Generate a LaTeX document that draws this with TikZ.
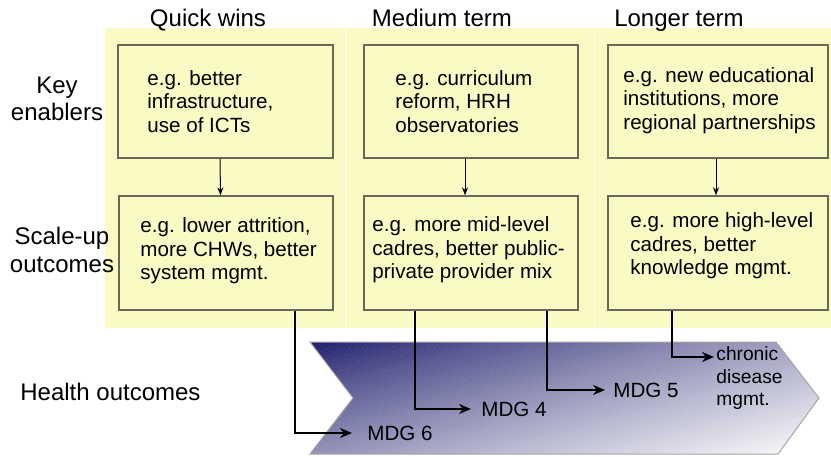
\documentclass[tikz,border=0pt]{standalone}
\usepackage{fontspec}
\setmainfont{Liberation Sans}
\usetikzlibrary{arrows.meta,fit}
\definecolor{panelyellow}{RGB}{250,250,196}
\definecolor{panelsep}{RGB}{253,253,228}
\definecolor{boxline}{RGB}{105,105,90}
\definecolor{chevdark}{RGB}{26,26,106}
\definecolor{chevlight}{RGB}{248,248,250}
\begin{document}
\begin{tikzpicture}[x=0.5pt,y=-0.5pt,
  panel/.style={fill=panelyellow, draw=none, inner sep=0pt},
  ebox/.style={draw=boxline, line width=0.7pt, fill=panelyellow, inner sep=0pt},
  boxtext/.style={font=\fontsize{10.3}{11.8}\selectfont, align=left, anchor=west, inner sep=0pt},
  header/.style={font=\fontsize{12}{14}\selectfont, inner sep=0pt, anchor=base},
  rowlabel/.style={font=\fontsize{12}{13.6}\selectfont, align=center, inner sep=0pt},
  thinarrow/.style={-{Stealth[length=4pt,width=3pt]}, line width=0.5pt},
  thickarrow/.style={-{Stealth[length=6pt,width=5pt]}, line width=1.2pt},
  mdg/.style={font=\fontsize{10.3}{11.5}\selectfont, inner sep=0pt, anchor=west, align=left}]

\useasboundingbox (0,0) rectangle (831,456);

% yellow panels
\node[panel, fit={(105,28) (831,328)}] (bg) {};
\draw[panelsep, line width=0.8pt] (346,28) -- (346,328);
\draw[panelsep, line width=0.8pt] (594.5,28) -- (594.5,328);

% headers
\node[header] (h1) at (208,26.5) {Quick wins};
\node[header] (h2) at (442,26.5) {Medium term};
\node[header] (h3) at (679,26.5) {Longer term};

% row labels
\node[rowlabel] (rk) at (57,99) {Key\\enablers};
\node[rowlabel] (rs) at (62,250) {Scale-up\\outcomes};
\node[rowlabel, anchor=west] (rh) at (20,392) {Health outcomes};

% boxes
\node[ebox, fit={(118,45) (333,158)}] (k1) {};
\node[ebox, fit={(119,196) (333,310)}] (s1) {};
\node[ebox, fit={(364,45) (578,158)}] (k2) {};
\node[ebox, fit={(364,196) (578,310)}] (s2) {};
\node[ebox, fit={(608,45) (828,158)}] (k3) {};
\node[ebox, fit={(608,196) (828,310)}] (s3) {};

\node[boxtext] (k1t) at (147,101.5) {e.g. better\\infrastructure,\\use of ICTs};
\node[boxtext] (s1t) at (140,251) {e.g. lower attrition,\\more CHWs, better\\system mgmt.};
\node[boxtext] (k2t) at (395,101.5) {e.g. curriculum\\reform, HRH\\observatories};
\node[boxtext] (s2t) at (372,250) {e.g. more mid-level\\cadres, better public-\\private provider mix};
\node[boxtext] (k3t) at (623,100.5) {e.g. new educational\\institutions, more\\regional partnerships};
\node[boxtext] (s3t) at (630,246) {e.g. more high-level\\cadres, better\\knowledge mgmt.};

\draw[thinarrow] ([xshift=-2.75pt]k1.south) -- ([xshift=-2.75pt]s1.north);
\draw[thinarrow] ([xshift=-3pt]k2.south) -- ([xshift=-3pt]s2.north);
\draw[thinarrow] ([xshift=-1pt]k3.south) -- ([xshift=-1pt]s3.north);

% chevron with diagonal gradient
\begin{scope}
  \clip (310,342) -- (776,342) -- (819,398) -- (778,454) -- (310,454) -- (353,398) -- cycle;
  \foreach \i in {0,...,99} {
    \pgfmathsetmacro\bandsa{\i*9}
    \pgfmathsetmacro\bandsb{\i*9+10}
    \pgfmathtruncatemacro\bandp{100*((\i+0.5)/100)^0.8}
    \fill[chevlight!\bandp!chevdark] ({354.4+\bandsa},330) -- ({354.4+\bandsb},330) -- ({\bandsb-163.6},470) -- ({\bandsa-163.6},470) -- cycle;
  }
\end{scope}
\draw[gray!70, line width=0.5pt] (310,342) -- (776,342) -- (819,398) -- (778,454) -- (310,454) -- (353,398) -- cycle;

% outcome labels
\node[mdg] (m6) at (367,433) {MDG 6};
\node[mdg] (m4) at (481,409) {MDG 4};
\node[mdg] (m5) at (613,390) {MDG 5};
\node[mdg, font=\fontsize{9.6}{11.4}\selectfont, anchor=north west] (cd) at (716,346) {chronic\\disease\\mgmt.};

% thick connectors
\draw[thickarrow] ([xshift=34.5pt]s1.south) |- ([xshift=-7.5pt]m6.west);
\draw[thickarrow] ([xshift=-28pt]s2.south) |- ([xshift=-5pt]m4.west);
\draw[thickarrow] ([xshift=38pt]s2.south) |- ([xshift=-4pt]m5.west);
\draw[thickarrow] ([xshift=-23pt]s3.south) |- ([shift={(-1pt,-5.5pt)}]cd.north west);
\end{tikzpicture}
\end{document}
